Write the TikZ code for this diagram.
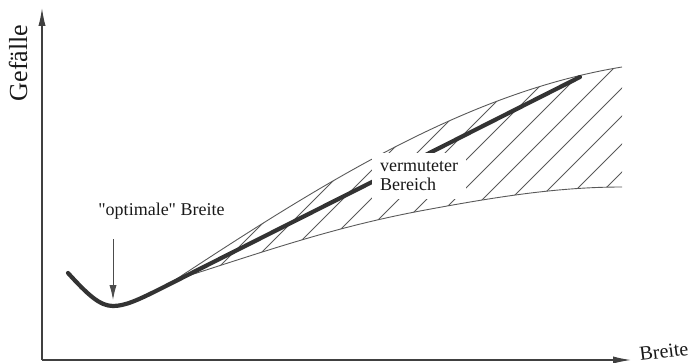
\documentclass[tikz,border=0pt]{standalone}
\usepackage{fontspec}
\setmainfont{Liberation Serif}
\usetikzlibrary{arrows.meta}
\tikzstyle{axis} =
        [
                draw,
                black!75,
                line width = 0.6pt,
                -{Latex[length = 9pt, width = 3.6pt]}
        ]
\tikzstyle{pointer} =
        [
                draw,
                black!70,
                line width = 0.5pt,
                -{Latex[length = 7.5pt, width = 3.6pt]}
        ]
\tikzstyle{thickcurve} =
        [
                draw,
                black!80,
                line width = 2.1pt,
                line cap = round
        ]
\tikzstyle{boundary} =
        [
                black!65,
                line width = 0.45pt
        ]
\tikzstyle{hatchline} =
        [
                draw,
                black!65,
                line width = 0.45pt
        ]
\tikzstyle{textlabel} =
        [
                text = black!90,
                inner sep = 0pt,
                font = \fontsize{9}{9.5}\selectfont
        ]

\begin{document}
\begin{tikzpicture}[x = 0.5pt, y = -0.5pt]
        \useasboundingbox (0,0) rectangle (700,363);
        \coordinate (origin) at (42,360);
        \coordinate (ytip) at (42,8);
        \coordinate (xtip) at (631,360);
        \coordinate (startpt) at (68,273);
        \coordinate (minpt) at (113,306);
        \coordinate (linept) at (160,289);
        \coordinate (endpt) at (580,77);
        \coordinate (fork) at (175,280);
        \coordinate (upend) at (622,67);
        \coordinate (lowend) at (622,187);

        % hatched range
        \begin{scope}[boundary]
                \draw [clip] (upend) .. controls (470,92) and (330,178) .. (fork)
                        .. controls (260,253) and (330,228) .. (420,211)
                        .. controls (500,196) and (560,187) .. (lowend);
                \foreach \c in {458,486,...,822}
                        \path [hatchline] (\c-363,363) -- (\c,0);
        \end{scope}

        \path [axis] (origin) -- (ytip);
        \path [axis] (origin) -- (xtip);

        \path [thickcurve] (startpt) .. controls (88,295) and (100,306) .. (minpt)
                .. controls (125,306) and (138,300) .. (linept) -- (endpt);

        \node [textlabel, rotate = 90, font = \fontsize{13}{14}\selectfont] (ylabel) at (18,63) {Gefälle};
        \node [textlabel, anchor = base west, rotate = 7, font = \fontsize{10}{11}\selectfont] (xlabel) at (640,361) {Breite};
        \node [textlabel, anchor = base west] (optlabel) at (98,215) {\textquotedbl optimale\textquotedbl{} Breite};
        \node [textlabel, fill = white, inner sep = 4pt, align = left] (rangelabel) at (419,176) {vermuteter\\Bereich};

        \path [pointer] ([yshift = -10pt]optlabel.south -| minpt) -- ([yshift = 3pt]minpt);
\end{tikzpicture}
\end{document}
